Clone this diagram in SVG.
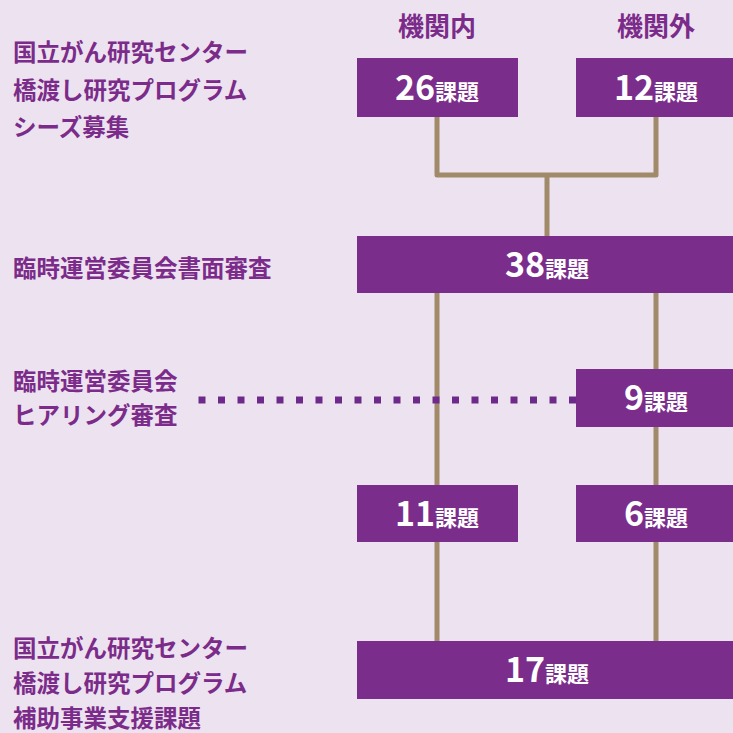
<svg xmlns="http://www.w3.org/2000/svg" width="733" height="733" viewBox="0 0 733 733">
<style>
.lbl{font-family:"Noto Sans CJK JP","Noto Sans",sans-serif;font-weight:bold;font-size:23.5px;fill:#7b2c8a}
.hdr{font-family:"Noto Sans CJK JP","Noto Sans",sans-serif;font-weight:bold;font-size:26px;fill:#7b2c8a;text-anchor:middle}
.box{fill:#7b2d8b}
.num{font-family:"Noto Sans CJK JP","Noto Sans",sans-serif;font-weight:bold;font-size:34px;fill:#fff}
.unit{font-size:22px}
.ln{stroke:#a08a6a;stroke-width:5;fill:none;stroke-linejoin:round}
</style>
<rect width="733" height="733" fill="#ede2ef"/>
<g id="labels">
<text class="lbl" x="13" y="61">国立がん研究センター</text>
<text class="lbl" x="13" y="99">橋渡し研究プログラム</text>
<text class="lbl" x="13" y="136">シーズ募集</text>
<text class="lbl" x="13" y="277">臨時運営委員会書面審査</text>
<text class="lbl" x="13" y="390">臨時運営委員会</text>
<text class="lbl" x="13" y="424">ヒアリング審査</text>
<text class="lbl" x="13" y="657">国立がん研究センター</text>
<text class="lbl" x="13" y="692">橋渡し研究プログラム</text>
<text class="lbl" x="13" y="727">補助事業支援課題</text>
<text class="hdr" x="437" y="36">機関内</text>
<text class="hdr" x="656" y="36">機関外</text>
</g>
<g id="connectors">
<path class="ln" d="M437 117 V175 H656 V117"/>
<path class="ln" d="M547 175 V236"/>
<path class="ln" d="M437 293 V485"/>
<path class="ln" d="M656 293 V369"/>
<path class="ln" d="M656 427 V485"/>
<path class="ln" d="M437 542 V641"/>
<path class="ln" d="M656 542 V641"/>
<path d="M576 400 H198" stroke="#6e2a8a" stroke-width="7" stroke-dasharray="7 12.5" fill="none"/>
</g>
<g id="n26"><rect class="box" x="357" y="58" width="161" height="59"/><text class="num" x="437" y="100" text-anchor="middle">26<tspan class="unit">課題</tspan></text></g>
<g id="n12"><rect class="box" x="576" y="58" width="157" height="59"/><text class="num" x="656" y="100" text-anchor="middle">12<tspan class="unit">課題</tspan></text></g>
<g id="n38"><rect class="box" x="357" y="236" width="376" height="57"/><text class="num" x="547" y="277" text-anchor="middle">38<tspan class="unit">課題</tspan></text></g>
<g id="n9"><rect class="box" x="576" y="369" width="157" height="58"/><text class="num" x="656" y="410" text-anchor="middle">9<tspan class="unit">課題</tspan></text></g>
<g id="n11"><rect class="box" x="357" y="485" width="161" height="57"/><text class="num" x="437" y="526" text-anchor="middle">11<tspan class="unit">課題</tspan></text></g>
<g id="n6"><rect class="box" x="576" y="485" width="157" height="57"/><text class="num" x="656" y="526" text-anchor="middle">6<tspan class="unit">課題</tspan></text></g>
<g id="n17"><rect class="box" x="357" y="641" width="376" height="58"/><text class="num" x="547" y="682" text-anchor="middle">17<tspan class="unit">課題</tspan></text></g>
</svg>
